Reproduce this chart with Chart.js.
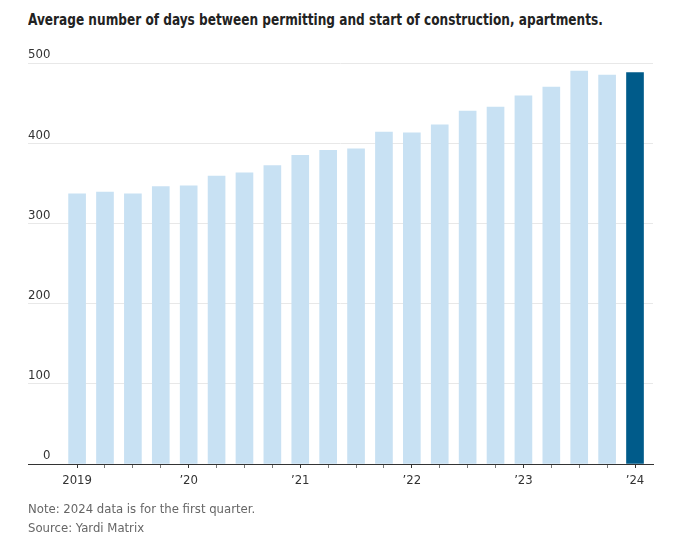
<!DOCTYPE html>
<html>
<head>
<meta charset="utf-8">
<script src="https://cdn.jsdelivr.net/npm/chart.js@4"></script>
<style>
  body { margin: 0; width: 680px; height: 553px; background: #fff; position: relative; overflow: hidden;
         font-family: "Liberation Sans Narrow", "DejaVu Sans Condensed", "Liberation Sans", sans-serif; }
  #title { position: absolute; left: 28px; top: 10px; font-size: 15.5px; line-height: 20px; font-weight: bold; color: #222;
           white-space: nowrap; transform: scaleX(0.87); transform-origin: left center; }
  #wrap { position: absolute; left: 0; top: 40px; width: 680px; height: 460px; }
  #foot { position: absolute; left: 28px; top: 499px; font-size: 13px; line-height: 19px; color: #666; }
</style>
</head>
<body>
<div id="title">Average number of days between permitting and start of construction, apartments.</div>
<div id="wrap"><canvas id="days"></canvas></div>
<div id="foot">Note: 2024 data is for the first quarter.<br>Source: Yardi Matrix</div>
<script>
// quarters 2019 Q1 .. 2024 Q1
const quarters = ["2019 Q1","2019 Q2","2019 Q3","2019 Q4","2020 Q1","2020 Q2","2020 Q3","2020 Q4",
  "2021 Q1","2021 Q2","2021 Q3","2021 Q4","2022 Q1","2022 Q2","2022 Q3","2022 Q4",
  "2023 Q1","2023 Q2","2023 Q3","2023 Q4","2024 Q1"];
const days = [337,339,337,346,347,359,363,372,385,391,393,414,413,423,440,445,459,470,490,485,488];
const yearLabels = {0:"2019",4:"\u201920",8:"\u201921",12:"\u201922",16:"\u201923",20:"\u201924"};
const yTicks = [0,100,200,300,400,500];

const FONT = '"Liberation Sans Narrow", "DejaVu Sans Condensed", "Liberation Sans", sans-serif';
const light = "#c8e1f3", dark = "#005b8a";

const ctx = document.getElementById("days");
let chart = new Chart(ctx, {
  type: 'bar',
  data: {
    datasets: [{
      label: "Days",
      data: days.map((v, i) => ({x: i, y: v})),
      backgroundColor: days.map((v, i) => i === days.length - 1 ? dark : light),
      borderWidth: 0,
      barThickness: 17
    }]
  },
  options: {
    responsive: true,
    maintainAspectRatio: false,
    animation: false,
    layout: { padding: { left: 28, right: 27, top: 23, bottom: 0 } },
    plugins: { legend: { display: false }, tooltip: { enabled: false } },
    scales: {
      x: {
        type: 'linear',
        offset: false,
        min: -1.76,
        max: 20.645,
        afterBuildTicks: s => { s.ticks = quarters.map((q, i) => ({value: i})); },
        afterFit: s => { s.height = 36; },
        border: { display: true, color: '#333', width: 1 },
        grid: {
          offset: false,
          drawOnChartArea: false,
          drawTicks: true,
          tickLength: 4,
          tickColor: c => (c.tick && yearLabels[c.tick.value] !== undefined) ? '#333' : '#777'
        },
        ticks: {
          autoSkip: false,
          maxRotation: 0,
          padding: 5,
          color: '#333',
          font: { family: FONT, size: 13 },
          callback: v => yearLabels[v] !== undefined ? yearLabels[v] : ''
        }
      },
      y: {
        min: 0,
        max: 500,
        afterBuildTicks: s => { s.ticks = yTicks.map(v => ({value: v})); },
        afterFit: s => { s.width = 0; },
        border: { display: false },
        grid: { color: '#e8e8e8', lineWidth: 1, drawTicks: false },
        ticks: {
          mirror: true,
          crossAlign: 'far',
          padding: 0,
          labelOffset: -8,
          color: '#333',
          font: { family: FONT, size: 13 }
        }
      }
    }
  }
});
</script>
</body>
</html>
